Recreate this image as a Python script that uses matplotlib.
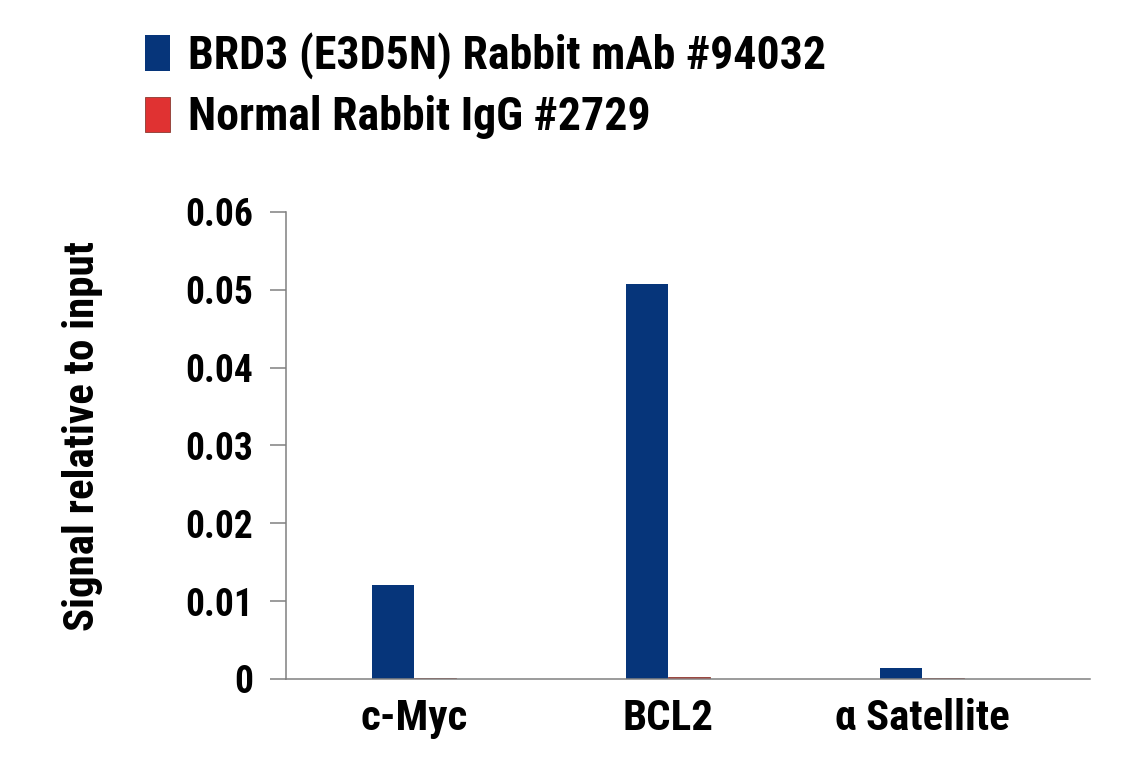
import matplotlib
matplotlib.use("Agg")
import matplotlib.pyplot as plt
from matplotlib import font_manager

# pick a narrow bold family if one is around
names = set(f.name for f in font_manager.fontManager.ttflist)
family = "DejaVu Sans"
for cand in ["Liberation Sans Narrow", "Roboto Condensed", "DejaVu Sans Condensed", "Open Sans Condensed", "Roboto"]:
    if cand in names:
        family = cand
        break
plt.rcParams['font.family'] = [family, 'DejaVu Sans']
plt.rcParams['font.weight'] = 'bold'
plt.rcParams['axes.labelweight'] = 'bold'

# data
targets = ["c-Myc", "BCL2", "\u03b1 Satellite"]
brd3 = [0.0121, 0.0508, 0.0014]
igg = [0.0001, 0.0002, 0.0001]
series_names = ["BRD3 (E3D5N) Rabbit mAb #94032", "Normal Rabbit IgG #2729"]
yticks = [0, 0.01, 0.02, 0.03, 0.04, 0.05, 0.06]
ytick_labels = ["0", "0.01", "0.02", "0.03", "0.04", "0.05", "0.06"]

blue = "#06357a"
red = "#e03232"
w = 0.165

fig = plt.figure(figsize=(11.41, 7.68), dpi=100)
ax = fig.add_axes([0.2507, 0.1159, 0.9553 - 0.2507, 0.724 - 0.1159])

x = list(range(len(targets)))
b1 = ax.bar([i - w for i in x], brd3, width=w, align='edge', color=blue, label=series_names[0])
b2 = ax.bar(x, igg, width=w, align='edge', color=red, edgecolor="#8a3a30", linewidth=0.6, label=series_names[1])

ax.set_xlim(-0.504, 2.661)
ax.set_ylim(0, 0.06)
ax.set_yticks(yticks)
ax.set_yticklabels(ytick_labels, fontsize=27)
ax.set_xticks(x)
ax.set_xticklabels(targets, fontsize=31)
ax.tick_params(axis='x', length=0, pad=14)
ax.tick_params(axis='y', length=11.5, width=1.1, color="#808080", pad=12)

for s in ['top', 'right']:
    ax.spines[s].set_visible(False)
for s in ['left', 'bottom']:
    ax.spines[s].set_color("#808080")
    ax.spines[s].set_linewidth(1.1)

ax.set_ylabel("Signal relative to input", fontsize=31)
ax.yaxis.set_label_coords(-0.228, 0.52)

leg = fig.legend(handles=[b1, b2], loc='upper left', bbox_to_anchor=(0.127, 0.958),
                 frameon=False, fontsize=33, handlelength=0.55, handleheight=0.8,
                 handletextpad=0.4, labelspacing=0.35, borderaxespad=0, borderpad=0)

fig.savefig("out.png", dpi=100)
